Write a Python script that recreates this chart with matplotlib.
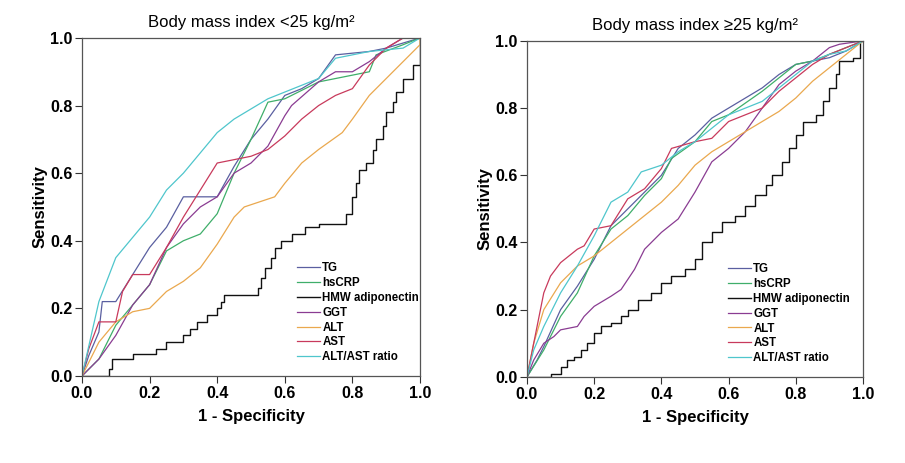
import matplotlib
matplotlib.use("Agg")
import matplotlib.pyplot as plt

plt.rcParams['font.family'] = ['Liberation Sans', 'DejaVu Sans']

labels = ["TG", "hsCRP", "HMW adiponectin", "GGT", "ALT", "AST", "ALT/AST ratio"]
colors = ["#5a5fa0", "#3fae6a", "#111111", "#8a3c92", "#eaa84e", "#c83a5c", "#4fc6cc"]

# ---- BMI < 25 ----
left_tg_x = [0, 0.02, 0.05, 0.06, 0.1, 0.15, 0.2, 0.25, 0.3, 0.4, 0.45, 0.5, 0.55, 0.6, 0.65, 0.7, 0.75, 0.85, 0.9, 1.0]
left_tg_y = [0, 0.06, 0.13, 0.22, 0.22, 0.3, 0.38, 0.44, 0.53, 0.53, 0.62, 0.7, 0.76, 0.83, 0.85, 0.88, 0.95, 0.96, 0.97, 1.0]
left_crp_x = [0, 0.05, 0.1, 0.15, 0.2, 0.25, 0.3, 0.35, 0.4, 0.45, 0.5, 0.55, 0.6, 0.7, 0.8, 0.85, 0.87, 0.95, 1.0]
left_crp_y = [0, 0.05, 0.15, 0.21, 0.27, 0.37, 0.4, 0.42, 0.48, 0.6, 0.7, 0.81, 0.82, 0.87, 0.89, 0.9, 0.95, 0.98, 1.0]
left_hmw_x = [0, 0.08, 0.09, 0.15, 0.22, 0.25, 0.3, 0.32, 0.34, 0.37, 0.4, 0.41, 0.42, 0.52, 0.53, 0.54, 0.56, 0.57, 0.59,
              0.62, 0.66, 0.7, 0.74, 0.78, 0.8, 0.81, 0.82, 0.84, 0.86, 0.87, 0.89, 0.9, 0.92, 0.93, 0.95, 0.98, 1.0]
left_hmw_y = [0, 0.02, 0.05, 0.065, 0.08, 0.1, 0.12, 0.14, 0.16, 0.18, 0.2, 0.22, 0.24, 0.26, 0.29, 0.32, 0.35, 0.38, 0.4,
              0.42, 0.44, 0.45, 0.45, 0.48, 0.53, 0.57, 0.61, 0.63, 0.67, 0.7, 0.74, 0.78, 0.81, 0.84, 0.88, 0.92, 1.0]
left_ggt_x = [0, 0.05, 0.1, 0.15, 0.2, 0.25, 0.3, 0.35, 0.4, 0.45, 0.5, 0.55, 0.6, 0.62, 0.7, 0.75, 0.8, 0.85, 0.9, 0.95, 1.0]
left_ggt_y = [0, 0.05, 0.12, 0.21, 0.27, 0.38, 0.45, 0.5, 0.53, 0.6, 0.63, 0.68, 0.77, 0.8, 0.87, 0.9, 0.9, 0.93, 0.97, 1.0, 1.0]
left_alt_x = [0, 0.05, 0.1, 0.15, 0.2, 0.25, 0.3, 0.35, 0.4, 0.45, 0.48, 0.57, 0.6, 0.65, 0.7, 0.77, 0.8, 0.85, 0.9, 0.95, 1.0, 1.0]
left_alt_y = [0, 0.1, 0.16, 0.19, 0.2, 0.25, 0.28, 0.32, 0.39, 0.47, 0.5, 0.53, 0.57, 0.63, 0.67, 0.72, 0.76, 0.83, 0.88, 0.93, 0.98, 1.0]
left_ast_x = [0, 0.02, 0.05, 0.1, 0.12, 0.15, 0.2, 0.25, 0.3, 0.35, 0.4, 0.45, 0.5, 0.55, 0.6, 0.65, 0.7, 0.75, 0.8, 0.85, 0.9, 0.95, 1.0]
left_ast_y = [0, 0.08, 0.16, 0.16, 0.25, 0.3, 0.3, 0.38, 0.47, 0.55, 0.63, 0.64, 0.65, 0.67, 0.71, 0.76, 0.8, 0.83, 0.85, 0.92, 0.97, 1.0, 1.0]
left_ratio_x = [0, 0.05, 0.1, 0.15, 0.2, 0.25, 0.3, 0.35, 0.4, 0.45, 0.5, 0.55, 0.6, 0.7, 0.75, 0.85, 0.95, 1.0]
left_ratio_y = [0, 0.22, 0.35, 0.41, 0.47, 0.55, 0.6, 0.66, 0.72, 0.76, 0.79, 0.82, 0.84, 0.88, 0.94, 0.96, 0.97, 1.0]

# ---- BMI >= 25 ----
right_tg_x = [0, 0.03, 0.05, 0.1, 0.15, 0.2, 0.25, 0.3, 0.35, 0.4, 0.45, 0.5, 0.55, 0.6, 0.65, 0.7, 0.75, 0.8, 0.85, 0.9, 0.95, 1.0]
right_tg_y = [0, 0.05, 0.09, 0.2, 0.27, 0.35, 0.45, 0.5, 0.55, 0.6, 0.68, 0.72, 0.77, 0.8, 0.83, 0.86, 0.9, 0.93, 0.94, 0.95, 0.97, 1.0]
right_crp_x = [0, 0.05, 0.1, 0.15, 0.2, 0.25, 0.3, 0.35, 0.4, 0.43, 0.5, 0.55, 0.6, 0.7, 0.8, 0.85, 0.9, 1.0]
right_crp_y = [0, 0.08, 0.18, 0.25, 0.36, 0.44, 0.48, 0.54, 0.59, 0.65, 0.7, 0.76, 0.78, 0.85, 0.93, 0.94, 0.96, 1.0]
right_hmw_x = [0, 0.07, 0.1, 0.12, 0.14, 0.16, 0.18, 0.2, 0.22, 0.25, 0.28, 0.3, 0.33, 0.37, 0.4, 0.43, 0.47, 0.5, 0.52,
               0.55, 0.58, 0.62, 0.65, 0.68, 0.71, 0.73, 0.76, 0.78, 0.8, 0.82, 0.86, 0.88, 0.9, 0.92, 0.93, 0.97, 0.99, 1.0]
right_hmw_y = [0, 0.01, 0.03, 0.05, 0.06, 0.08, 0.1, 0.13, 0.15, 0.16, 0.18, 0.2, 0.23, 0.25, 0.28, 0.3, 0.32, 0.35, 0.4,
               0.43, 0.46, 0.48, 0.51, 0.54, 0.57, 0.6, 0.64, 0.68, 0.72, 0.76, 0.78, 0.82, 0.86, 0.9, 0.94, 0.95, 1.0, 1.0]
right_ggt_x = [0, 0.02, 0.05, 0.08, 0.1, 0.15, 0.17, 0.2, 0.25, 0.28, 0.32, 0.35, 0.4, 0.45, 0.5, 0.55, 0.6, 0.65, 0.7, 0.75, 0.8, 0.85, 0.9, 0.93, 1.0]
right_ggt_y = [0, 0.05, 0.1, 0.12, 0.14, 0.15, 0.18, 0.21, 0.24, 0.26, 0.32, 0.38, 0.43, 0.47, 0.55, 0.64, 0.68, 0.73, 0.8, 0.87, 0.91, 0.94, 0.98, 0.99, 1.0]
right_alt_x = [0, 0.02, 0.05, 0.1, 0.15, 0.2, 0.25, 0.3, 0.35, 0.4, 0.45, 0.5, 0.55, 0.6, 0.65, 0.7, 0.75, 0.8, 0.85, 0.9, 0.95, 1.0]
right_alt_y = [0, 0.1, 0.2, 0.28, 0.33, 0.36, 0.4, 0.44, 0.48, 0.52, 0.57, 0.63, 0.67, 0.7, 0.73, 0.76, 0.79, 0.83, 0.88, 0.92, 0.96, 1.0]
right_ast_x = [0, 0.02, 0.03, 0.05, 0.07, 0.1, 0.15, 0.17, 0.2, 0.25, 0.3, 0.35, 0.4, 0.43, 0.5, 0.55, 0.6, 0.7, 0.75, 0.8, 0.85, 0.9, 0.95, 1.0]
right_ast_y = [0, 0.1, 0.15, 0.25, 0.3, 0.34, 0.38, 0.39, 0.44, 0.45, 0.53, 0.56, 0.62, 0.68, 0.7, 0.71, 0.76, 0.8, 0.85, 0.89, 0.93, 0.96, 0.98, 1.0]
right_ratio_x = [0, 0.02, 0.05, 0.1, 0.15, 0.2, 0.25, 0.3, 0.34, 0.4, 0.45, 0.5, 0.55, 0.6, 0.7, 0.8, 0.85, 0.9, 0.95, 1.0]
right_ratio_y = [0, 0.08, 0.15, 0.25, 0.33, 0.42, 0.52, 0.55, 0.61, 0.63, 0.67, 0.7, 0.74, 0.78, 0.82, 0.9, 0.94, 0.96, 0.97, 1.0]

left_curves = [(left_tg_x, left_tg_y), (left_crp_x, left_crp_y), (left_hmw_x, left_hmw_y), (left_ggt_x, left_ggt_y),
               (left_alt_x, left_alt_y), (left_ast_x, left_ast_y), (left_ratio_x, left_ratio_y)]
right_curves = [(right_tg_x, right_tg_y), (right_crp_x, right_crp_y), (right_hmw_x, right_hmw_y), (right_ggt_x, right_ggt_y),
                (right_alt_x, right_alt_y), (right_ast_x, right_ast_y), (right_ratio_x, right_ratio_y)]


def drawPanel(ax, curves, title, legendAnchor):
    for i in range(len(curves)):
        xs, ys = curves[i]
        if labels[i] == "HMW adiponectin":
            ax.plot(xs, ys, color=colors[i], lw=1.0, drawstyle="steps-post", label=labels[i])
        else:
            ax.plot(xs, ys, color=colors[i], lw=0.9, label=labels[i])
    ax.set_xlim(0, 1)
    ax.set_ylim(0, 1)
    ticks = [0.0, 0.2, 0.4, 0.6, 0.8, 1.0]
    ax.set_xticks(ticks)
    ax.set_yticks(ticks)
    ax.set_xticklabels(["%.1f" % t for t in ticks], fontsize=11.5, fontweight="bold")
    ax.set_yticklabels(["%.1f" % t for t in ticks], fontsize=11.5, fontweight="bold")
    ax.tick_params(direction="out", length=5, width=0.8, color="#333333", pad=2)
    for s in ax.spines.values():
        s.set_color("#555555")
        s.set_linewidth(0.9)
    ax.set_xlabel("1 - Specificity", fontsize=12, fontweight="bold", labelpad=6)
    ax.set_ylabel("Sensitivity", fontsize=12, fontweight="bold", labelpad=2)
    ax.set_title(title, fontsize=12, pad=8)
    ax.legend(loc="upper left", bbox_to_anchor=legendAnchor, frameon=False, borderpad=0, borderaxespad=0,
              handlelength=2.0, handletextpad=0.2, labelspacing=0.25,
              prop={"weight": "bold", "size": 8.3})


fig = plt.figure(figsize=(9.05, 4.63), dpi=100)
ax1 = fig.add_axes([0.0906, 0.188, 0.3735, 0.730])
ax2 = fig.add_axes([0.5823, 0.186, 0.3713, 0.7257])

drawPanel(ax1, left_curves, "Body mass index <25 kg/m\u00b2", (0.636, 0.337))
drawPanel(ax2, right_curves, "Body mass index \u226525 kg/m\u00b2", (0.598, 0.339))

fig.savefig("out.png", dpi=100)
